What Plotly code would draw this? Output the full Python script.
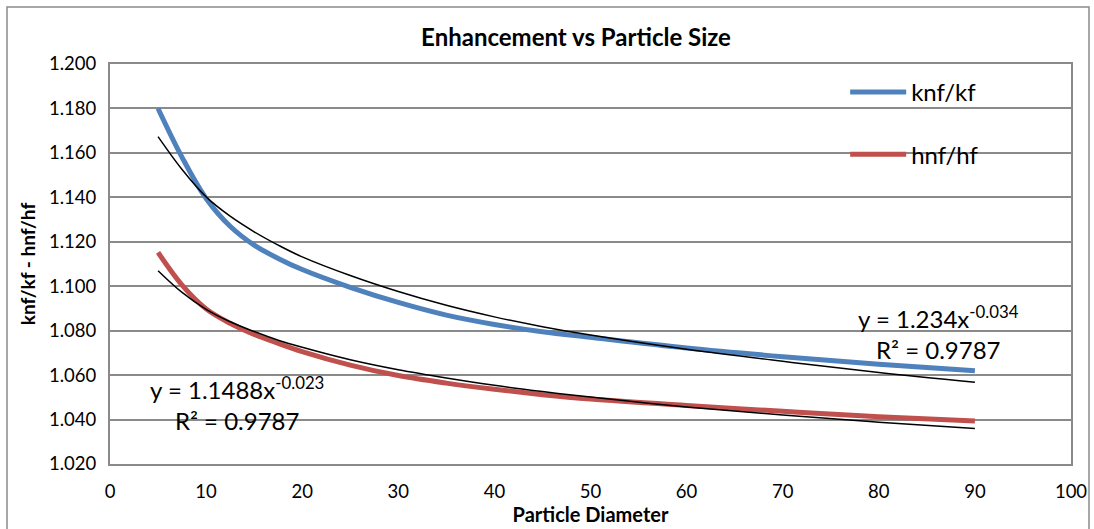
import plotly.graph_objects as go

# Particle diameter values (x)
diameter = [5, 7.5, 10, 12.5, 15, 17.5, 20, 25, 30, 35, 40, 45, 50, 60, 70, 80, 90]

# knf/kf series
knf_kf = [1.1800, 1.1580, 1.1395, 1.1270, 1.1185, 1.1125, 1.1075, 1.0995, 1.0927,
          1.0870, 1.0828, 1.0795, 1.0770, 1.0722, 1.0683, 1.0649, 1.0620]

# hnf/hf series
hnf_hf = [1.1152, 1.1005, 1.0898, 1.0833, 1.0783, 1.0743, 1.0706, 1.0645, 1.0598,
          1.0564, 1.0536, 1.0512, 1.0492, 1.0463, 1.0437, 1.0413, 1.0393]

# Power trendlines
knf_trend = [1.1673, 1.1525, 1.1402, 1.1315, 1.1245, 1.1185, 1.1132, 1.1048, 1.0976,
             1.0914, 1.0862, 1.0818, 1.0780, 1.0716, 1.0662, 1.0612, 1.0568]
hnf_trend = [1.1070, 1.0972, 1.0896, 1.0840, 1.0796, 1.0757, 1.0725, 1.0669, 1.0624,
             1.0587, 1.0554, 1.0526, 1.0501, 1.0457, 1.0420, 1.0388, 1.0360]

y_ticks = [1.020, 1.040, 1.060, 1.080, 1.100, 1.120, 1.140, 1.160, 1.180, 1.200]
x_ticks = [0, 10, 20, 30, 40, 50, 60, 70, 80, 90, 100]

FONT = "Lato"
GRID = "#8a8a8a"

fig = go.Figure()
fig.add_trace(go.Scatter(x=diameter, y=knf_kf, mode="lines", name="knf/kf",
                         line=dict(color="#4F81BD", width=5, shape="spline"),
                         legendgroup="a"))
fig.add_trace(go.Scatter(x=diameter, y=hnf_hf, mode="lines", name="hnf/hf",
                         line=dict(color="#C0504D", width=5, shape="spline"),
                         legendgroup="b"))
fig.add_trace(go.Scatter(x=diameter, y=knf_trend, mode="lines", showlegend=False,
                         line=dict(color="black", width=1.5, shape="spline")))
fig.add_trace(go.Scatter(x=diameter, y=hnf_trend, mode="lines", showlegend=False,
                         line=dict(color="black", width=1.5, shape="spline")))

fig.add_annotation(x=86.2, y=1.0793, xref="x", yref="y", showarrow=False,
                   text="y = 1.234x<sup>-0.034</sup><br>R² = 0.9787", align="center",
                   font=dict(family=FONT, size=24, color="black"))
fig.add_annotation(x=13.2, y=1.0472, xref="x", yref="y", showarrow=False,
                   text="y = 1.1488x<sup>-0.023</sup><br>R² = 0.9787", align="center",
                   font=dict(family=FONT, size=24, color="black"))

# outer chart border
fig.add_shape(type="rect", xref="paper", yref="paper",
              x0=(7 - 110) / 961, x1=(1089 - 110) / 961,
              y0=-0.3, y1=(464.5 - 7) / 400.5,
              line=dict(color=GRID, width=1.5), layer="below")

fig.update_layout(
    width=1094, height=529,
    margin=dict(l=110, r=23, t=64, b=64.5, autoexpand=False),
    paper_bgcolor="white", plot_bgcolor="white",
    font=dict(family=FONT, color="black"),
    title=dict(text="<b>Enhancement vs Particle Size</b>", x=576 / 1094, xanchor="center",
               y=1 - 38 / 529, yanchor="middle", font=dict(family=FONT, size=24, color="black")),
    legend=dict(x=0.765, y=0.985, xanchor="left", yanchor="top", tracegroupgap=28,
                itemwidth=56,
                font=dict(family=FONT, size=24, color="black"), bgcolor="rgba(0,0,0,0)"),
    xaxis=dict(range=[0, 100], tickvals=x_ticks, showgrid=False, zeroline=False,
               showline=True, linecolor=GRID, linewidth=2, mirror=True, automargin=False,
               ticks="outside", ticklen=10, tickcolor="rgba(0,0,0,0)",
               tickfont=dict(family=FONT, size=18.5, color="black"),
               title=dict(text="<b>Particle Diameter</b>", standoff=6,
                          font=dict(family=FONT, size=20, color="black"))),
    yaxis=dict(range=[1.02, 1.2], tickvals=y_ticks, tickformat=".3f", showgrid=True,
               gridcolor=GRID, gridwidth=2, zeroline=False, automargin=False,
               showline=True, linecolor=GRID, linewidth=2, mirror=True,
               ticks="outside", ticklen=8, tickcolor="rgba(0,0,0,0)",
               tickfont=dict(family=FONT, size=18.5, color="black"),
               title=dict(text="<b>knf/kf - hnf/hf</b>", standoff=8,
                          font=dict(family=FONT, size=19, color="black"))),
)

fig.write_html("out.html", config={"displayModeBar": False},
               post_script="document.body.style.margin='0';")
